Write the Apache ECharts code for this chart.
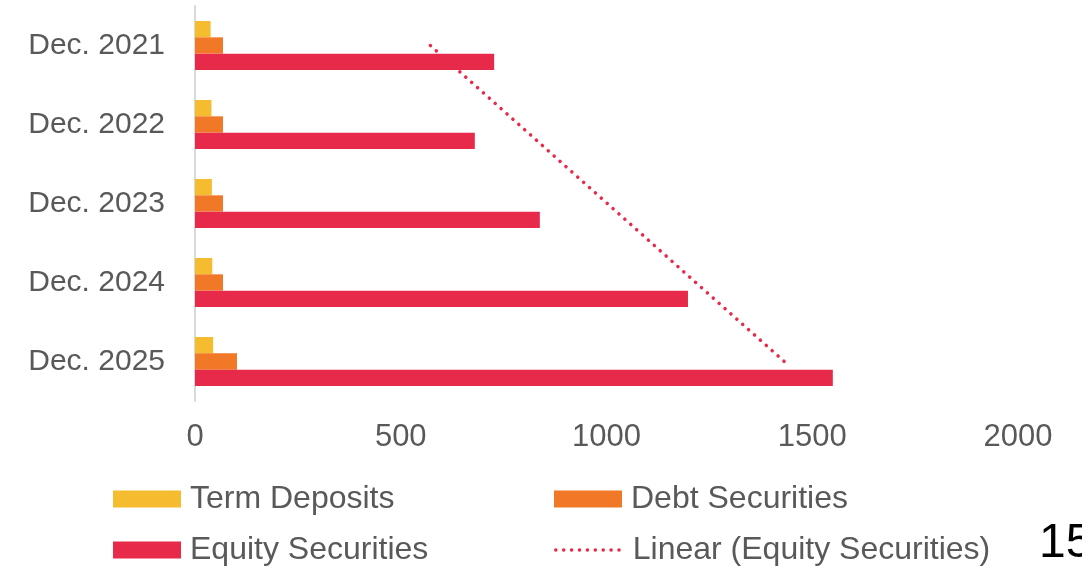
<!DOCTYPE html>
<html>
<head>
<meta charset="utf-8">
<script src="https://cdn.jsdelivr.net/npm/echarts@6/dist/echarts.min.js"></script>
<style>
html,body{margin:0;padding:0;background:#fff;}
#chart{width:1082px;height:566px;}
</style>
</head>
<body>
<div id="chart"></div>
<script>
const categories = ['Dec. 2021', 'Dec. 2022', 'Dec. 2023', 'Dec. 2024', 'Dec. 2025'];
const termDeposits = [38, 40, 41, 42, 44];
const debtSecurities = [68, 68, 68, 68, 102];
const equitySecurities = [727, 680, 838, 1198, 1550];
const trendCategories = ['Dec. 2021', 'Dec. 2025'];
const trendValues = [572, 1432];
const xTicks = [0, 500, 1000, 1500, 2000];
const seriesNames = ['Term Deposits', 'Debt Securities', 'Equity Securities', 'Linear (Equity Securities)'];
const pageNumber = '15';

const FONT = '"Liberation Sans", Arial, sans-serif';
const TXT = '#595959';
const C_TERM = '#F4BC2E';
const C_DEBT = '#F07826';
const C_EQ = '#E72A4A';
const TREND_DASH = [0.1, 7.8];
const LEG_FS = 32;

const chart = echarts.init(document.getElementById('chart'), null, {renderer: 'canvas'});

function legendAt(name, left, top) {
  return {
    data: [{name: name, icon: 'rect'}],
    left: left, top: top,
    itemWidth: 68, itemHeight: 17,
    itemGap: 0,
    selectedMode: false,
    textStyle: {fontFamily: FONT, fontSize: LEG_FS, color: TXT, padding: [0, 0, 0, 4]}
  };
}

const option = {
  animation: false,
  backgroundColor: '#ffffff',
  textStyle: {fontFamily: FONT},
  grid: {left: 195, right: 64, top: 6, height: 395, containLabel: false},
  xAxis: {
    type: 'value',
    min: xTicks[0], max: xTicks[xTicks.length - 1], interval: xTicks[1] - xTicks[0],
    axisLine: {show: false}, axisTick: {show: false}, splitLine: {show: false},
    axisLabel: {fontFamily: FONT, fontSize: 31, color: TXT, margin: 21, formatter: v => String(v)}
  },
  yAxis: {
    type: 'category', data: categories, inverse: true,
    axisLine: {show: true, lineStyle: {color: '#D9D9D9', width: 2}},
    axisTick: {show: false},
    axisLabel: {fontFamily: FONT, fontSize: 30, color: TXT, margin: 30}
  },
  legend: [
    legendAt(seriesNames[0], 108, 478),
    legendAt(seriesNames[1], 549, 478),
    legendAt(seriesNames[2], 108, 529),
    {
      data: [{name: seriesNames[3]}],
      left: 549, top: 529,
      itemWidth: 68, itemHeight: 17, itemGap: 0, selectedMode: false,
      itemStyle: {opacity: 0},
      lineStyle: {color: C_EQ, width: 3.5, type: TREND_DASH, cap: 'round'},
      textStyle: {fontFamily: FONT, fontSize: LEG_FS, color: TXT, padding: [0, 0, 0, 4]}
    }
  ],
  graphic: [{
    type: 'text', left: 1039, top: 520,
    style: {text: pageNumber, font: '48px ' + FONT, fill: '#000000'}
  }],
  series: [
    {name: seriesNames[0], type: 'bar', data: termDeposits, barGap: '0%', barCategoryGap: '38%',
     itemStyle: {color: C_TERM}},
    {name: seriesNames[1], type: 'bar', data: debtSecurities, barGap: '0%', barCategoryGap: '38%',
     itemStyle: {color: C_DEBT}},
    {name: seriesNames[2], type: 'bar', data: equitySecurities, barGap: '0%', barCategoryGap: '38%',
     itemStyle: {color: C_EQ}},
    {name: seriesNames[3], type: 'line',
     data: trendValues.map((v, i) => [v, trendCategories[i]]),
     symbol: 'none', showSymbol: false,
     lineStyle: {color: C_EQ, width: 3.5, type: TREND_DASH, cap: 'round'},
     itemStyle: {color: C_EQ}, z: 5}
  ]
};
chart.setOption(option);
</script>
</body>
</html>
